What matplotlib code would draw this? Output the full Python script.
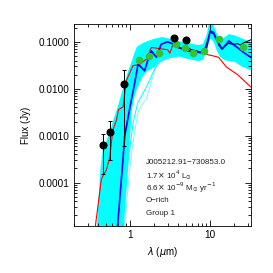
import matplotlib
matplotlib.use("Agg")
import matplotlib.pyplot as plt
from matplotlib.ticker import FixedLocator, FixedFormatter, LogLocator, NullFormatter

plt.rcParams["font.family"] = ["Liberation Sans", "DejaVu Sans"]

# photometry (black: optical/IRAC, green: synthetic model fluxes)
obs_wl = [0.457, 0.56, 0.835, 3.57, 4.94]
obs_flux = [6.2e-4, 1.2e-3, 0.0126, 0.1216, 0.107]
obs_err_lo = [4.7e-4, 9.0e-4, 0.0120, 0.008, 0.008]
obs_err_hi = [4.8e-4, 0.9e-3, 0.0124, 0.012, 0.010]

mod_wl = [1.29, 1.74, 2.28, 3.78, 4.8, 6.15, 8.35, 12.9, 25.4]
mod_flux = [0.042, 0.051, 0.0575, 0.089, 0.073, 0.0575, 0.064, 0.114, 0.076]

# grid of models (envelope)
band_wl = [0.38, 0.4, 0.42, 0.45, 0.5, 0.56, 0.6, 0.7, 0.8, 0.83, 0.9, 0.94, 1.04,
           1.1, 1.2, 1.4, 1.6, 2.0, 2.5, 3.0, 4.0, 5.0, 6.0, 7.0, 8.0, 9.0, 9.5, 10.0,
           10.5, 11.0, 12.0, 13.0, 14.0, 15.0, 17.0, 20.0, 25.0, 32.0]
band_hi = [1.2e-5, 5e-5, 1.9e-4, 5e-4, 8e-4, 1.3e-3, 2e-3, 4.5e-3, 0.01, 0.012, 0.02,
           0.025, 0.04, 0.055, 0.08, 0.095, 0.105, 0.12, 0.13, 0.12, 0.105, 0.1, 0.092,
           0.088, 0.092, 0.15, 0.25, 0.3, 0.3, 0.22, 0.15, 0.12, 0.115, 0.13, 0.15,
           0.14, 0.12, 0.1]
band_lo = [1e-6, 1e-6, 1e-6, 1e-6, 1e-6, 1e-6, 1e-6, 1e-6, 1e-6, 1.2e-5, 1e-4, 3e-4,
           3.6e-3, 6e-3, 0.01, 0.018, 0.024, 0.03, 0.04, 0.045, 0.05, 0.045, 0.042,
           0.04, 0.042, 0.07, 0.1, 0.12, 0.11, 0.1, 0.065, 0.05, 0.045, 0.042, 0.04,
           0.038, 0.03, 0.025]

stray1_wl = [0.85, 1.0, 1.1, 1.25, 1.4, 1.6, 1.8, 2.1, 2.5]
stray1 = [1.2e-5, 2e-4, 8e-4, 3e-3, 4.5e-3, 6e-3, 0.012, 0.03, 0.045]
stray2_wl = [0.8, 0.95, 1.1, 1.25, 1.45, 1.65, 2.0, 2.5]
stray2 = [1.2e-5, 3e-4, 2e-3, 5e-3, 8e-3, 0.012, 0.025, 0.045]

# best fit model
blue_wl = [0.7, 0.8, 0.86, 1.0, 1.14, 1.26, 1.35, 1.52, 1.7, 1.85, 2.13, 2.45, 2.93,
           3.53, 4.2, 5.2, 6.5, 7.6, 8.8, 9.5, 10.0, 11.0, 11.5, 12.5, 14.1, 15.5,
           17.1, 19.0, 21.8, 26.0, 32.0]
blue_flux = [1.2e-5, 2e-4, 1e-3, 4.1e-3, 0.0128, 0.033, 0.03, 0.024, 0.045, 0.064,
             0.047, 0.089, 0.1, 0.089, 0.075, 0.064, 0.06, 0.06, 0.063, 0.11, 0.17,
             0.16, 0.134, 0.1, 0.07, 0.085, 0.105, 0.09, 0.076, 0.06, 0.047]

# naked star
red_wl = [0.37, 0.44, 0.51, 0.56, 0.61, 0.68, 0.72, 0.82, 0.9, 1.09, 1.32, 1.6, 1.85,
          2.58, 2.95, 3.15, 3.4, 3.7, 4.2, 5.0, 6.0, 8.0, 9.5, 11.0, 12.7, 16.0, 22.0,
          32.0]
red_flux = [1.2e-5, 1.2e-4, 1.9e-4, 3.5e-4, 1.3e-3, 2.2e-3, 3.6e-3, 4.1e-3, 0.015,
            0.031, 0.033, 0.043, 0.076, 0.07, 0.068, 0.057, 0.085, 0.078, 0.072, 0.068,
            0.062, 0.057, 0.053, 0.05, 0.047, 0.029, 0.02, 0.011]

# IRS spectrum
irs_wl = [5.3, 5.8, 6.3, 6.8, 7.3, 7.8, 8.3, 9.0, 10.0, 11.0, 12.0, 13.0, 14.0, 15.0,
          16.0, 17.0, 18.0, 19.0, 20.0, 22.0, 24.0, 26.0, 28.0, 30.0, 32.0]
irs_flux = [0.075, 0.068, 0.066, 0.064, 0.062, 0.062, 0.06, 0.09, 0.16, 0.15, 0.11,
            0.082, 0.07, 0.08, 0.085, 0.095, 0.09, 0.092, 0.088, 0.092, 0.085, 0.095,
            0.1, 0.105, 0.11]

labels = ["J005212.91\u2212730853.0",
          r"1.7$\times$ 10$^{4}$ L$_{\odot}$",
          r"6.6$\times$ 10$^{-9}$ M$_{\odot}$ yr$^{-1}$",
          "O\u2212rich",
          "Group 1"]

fig = plt.figure(figsize=(2.73, 2.73), dpi=100)
ax = fig.add_axes([0.271, 0.173, 0.647, 0.739])

ax.fill_between(band_wl, band_lo, band_hi, color="cyan", lw=0)
ax.plot(stray1_wl, stray1, color="#7ff7ff", lw=0.7)
ax.plot(stray2_wl, stray2, color="cyan", lw=0.7)
ax.plot(red_wl, red_flux, color="red", lw=0.8)
ax.plot(irs_wl, irs_flux, color="black", lw=0.8)
ax.plot(blue_wl, blue_flux, color="blue", lw=1.2)
ax.errorbar(obs_wl, obs_flux, yerr=[obs_err_lo, obs_err_hi], fmt="o", color="black",
            ms=4.8, elinewidth=0.7, capsize=1.5, capthick=0.7)
ax.plot(mod_wl, mod_flux, "o", color="#33c433", ms=4.5)

ax.set_xscale("log")
ax.set_yscale("log")
ax.set_xlim(0.2, 32)
ax.set_ylim(1.2e-5, 0.24)

ax.xaxis.set_major_locator(FixedLocator([1, 10]))
ax.xaxis.set_major_formatter(FixedFormatter(["1", "10"]))
ax.xaxis.set_minor_locator(LogLocator(base=10, subs=range(2, 10)))
ax.xaxis.set_minor_formatter(NullFormatter())
ax.yaxis.set_major_locator(FixedLocator([1e-4, 1e-3, 1e-2, 1e-1]))
ax.yaxis.set_major_formatter(FixedFormatter(["0.0001", "0.0010", "0.0100", "0.1000"]))
ax.yaxis.set_minor_locator(LogLocator(base=10, subs=range(2, 10)))
ax.yaxis.set_minor_formatter(NullFormatter())

ax.tick_params(which="both", direction="in", top=True, right=True, width=0.6,
               labelsize=7.2, pad=3)
ax.tick_params(which="major", length=4)
ax.tick_params(which="minor", length=2)
for s in ax.spines.values():
    s.set_linewidth(0.6)

ax.set_xlabel(r"$\lambda$ ($\mu$m)", fontsize=7, labelpad=4)
ax.set_ylabel("Flux (Jy)", fontsize=7, labelpad=6)

for i, t in enumerate(labels):
    ax.text(0.406, 0.312 - i * 0.063, t, transform=ax.transAxes, fontsize=5.8,
            va="center", ha="left", color="#222222")

fig.savefig("out.png", dpi=100)
